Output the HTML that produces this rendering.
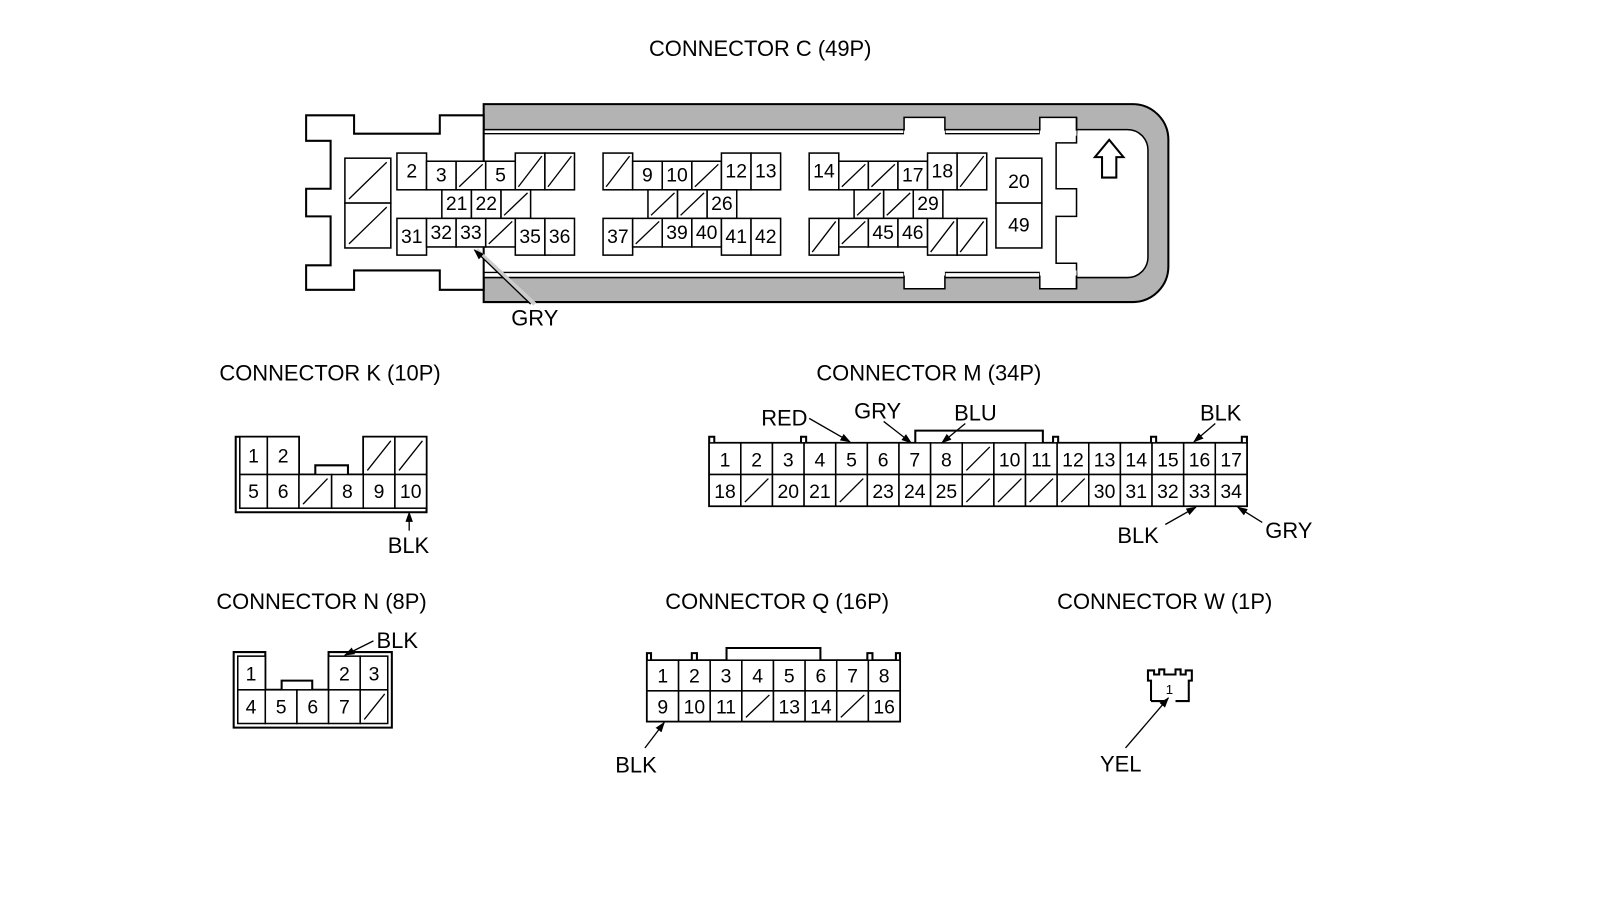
<!DOCTYPE html>
<html><head><meta charset="utf-8"><style>
html,body{margin:0;padding:0;background:#fff;}
svg{display:block;}
text{font-family:"Liberation Sans",sans-serif;fill:#000;}
.t{font-size:21.5px;}
.n{font-size:19px;text-anchor:middle;}
.c rect{fill:#fff;stroke:#000;stroke-width:1.5;}
.c line,.s{stroke:#000;stroke-width:1.3;}
.o{fill:none;stroke:#000;stroke-width:2;}
</style></head><body>
<svg width="1600" height="918" viewBox="0 0 1568 899.6" preserveAspectRatio="none" xmlns="http://www.w3.org/2000/svg">
<defs><marker id="a" viewBox="0 0 10 10" refX="9" refY="5" markerWidth="8" markerHeight="8" orient="auto"><path d="M0,1.5 L10,5 L0,8.5 z" fill="#000"/></marker></defs>

<!-- CONNECTOR C -->
<text class="t" x="636" y="55">CONNECTOR C (49P)</text>
<path d="M474,102 H1110 A35,35 0 0 1 1145,137 V261 A35,35 0 0 1 1110,296 H474 Z" fill="#b3b3b3" stroke="#000" stroke-width="2"/>
<path d="M474,127 H1105 A20,20 0 0 1 1125,147 V252 A20,20 0 0 1 1105,272 H474 Z" fill="#fff" stroke="#000" stroke-width="1.5"/>
<line x1="474" y1="131" x2="1035" y2="131" class="s"/>
<line x1="474" y1="267" x2="1035" y2="267" class="s"/>
<path d="M886,131 V115 H926 V131" fill="#fff" stroke="#000" stroke-width="1.5"/>
<path d="M1019,131 V115 H1055 V131" fill="#fff" stroke="#000" stroke-width="1.5"/>
<path d="M886,267 V283 H926 V267" fill="#fff" stroke="#000" stroke-width="1.5"/>
<path d="M1019,267 V283 H1055 V267" fill="#fff" stroke="#000" stroke-width="1.5"/>
<polyline points="1055,115 1055,140 1035,140 1035,185 1055,185 1055,212 1035,212 1035,258 1055,258 1055,283" fill="none" stroke="#000" stroke-width="1.5"/>
<rect x="886" y="128" width="40" height="5" fill="#fff"/>
<rect x="1019" y="128" width="36" height="5" fill="#fff"/>
<rect x="886" y="265" width="40" height="5" fill="#fff"/>
<rect x="1019" y="265" width="36" height="5" fill="#fff"/>
<polygon points="474,113 431,113 431,131 347,131 347,113 300,113 300,138 324,138 324,185 300,185 300,212 324,212 324,260 300,260 300,284 347,284 347,265 431,265 431,284 474,284" fill="#fff" stroke="#000" stroke-width="2"/>
<line x1="474" y1="113" x2="474" y2="127" class="s"/>
<line x1="474" y1="272" x2="474" y2="284" class="s"/>
<polygon points="1087,137 1101,154 1094,154 1094,174 1080,174 1080,154 1073,154" fill="#fff" stroke="#000" stroke-width="2"/>

<g class="c">
<rect x="338" y="155" width="45" height="44"/><line x1="342" y1="195" x2="379" y2="159"/>
<rect x="338" y="199" width="45" height="44"/><line x1="342" y1="239" x2="379" y2="203"/>
<rect x="389" y="150" width="29" height="36"/><text class="n" x="403.5" y="174">2</text>
<rect x="418" y="158" width="29" height="28"/><text class="n" x="432.5" y="178">3</text>
<rect x="447" y="158" width="29" height="28"/><line x1="450" y1="183" x2="473" y2="161"/>
<rect x="476" y="158" width="29" height="28"/><text class="n" x="490.5" y="178">5</text>
<rect x="505" y="150" width="29" height="36"/><line x1="508" y1="183" x2="531" y2="153"/>
<rect x="534" y="150" width="29" height="36"/><line x1="537" y1="183" x2="560" y2="153"/>
<rect x="433" y="186" width="29" height="28"/><text class="n" x="447.5" y="206">21</text>
<rect x="462" y="186" width="29" height="28"/><text class="n" x="476.5" y="206">22</text>
<rect x="491" y="186" width="29" height="28"/><line x1="494" y1="211" x2="517" y2="189"/>
<rect x="389" y="214" width="29" height="36"/><text class="n" x="403.5" y="238">31</text>
<rect x="418" y="214" width="29" height="28"/><text class="n" x="432.5" y="234">32</text>
<rect x="447" y="214" width="29" height="28"/><text class="n" x="461.5" y="234">33</text>
<rect x="476" y="214" width="29" height="28"/><line x1="479" y1="239" x2="502" y2="217"/>
<rect x="505" y="214" width="29" height="36"/><text class="n" x="519.5" y="238">35</text>
<rect x="534" y="214" width="29" height="36"/><text class="n" x="548.5" y="238">36</text>
<rect x="591" y="150" width="29" height="36"/><line x1="594" y1="183" x2="617" y2="153"/>
<rect x="620" y="158" width="29" height="28"/><text class="n" x="634.5" y="178">9</text>
<rect x="649" y="158" width="29" height="28"/><text class="n" x="663.5" y="178">10</text>
<rect x="678" y="158" width="29" height="28"/><line x1="681" y1="183" x2="704" y2="161"/>
<rect x="707" y="150" width="29" height="36"/><text class="n" x="721.5" y="174">12</text>
<rect x="736" y="150" width="29" height="36"/><text class="n" x="750.5" y="174">13</text>
<rect x="635" y="186" width="29" height="28"/><line x1="638" y1="211" x2="661" y2="189"/>
<rect x="664" y="186" width="29" height="28"/><line x1="667" y1="211" x2="690" y2="189"/>
<rect x="693" y="186" width="29" height="28"/><text class="n" x="707.5" y="206">26</text>
<rect x="591" y="214" width="29" height="36"/><text class="n" x="605.5" y="238">37</text>
<rect x="620" y="214" width="29" height="28"/><line x1="623" y1="239" x2="646" y2="217"/>
<rect x="649" y="214" width="29" height="28"/><text class="n" x="663.5" y="234">39</text>
<rect x="678" y="214" width="29" height="28"/><text class="n" x="692.5" y="234">40</text>
<rect x="707" y="214" width="29" height="36"/><text class="n" x="721.5" y="238">41</text>
<rect x="736" y="214" width="29" height="36"/><text class="n" x="750.5" y="238">42</text>
<rect x="793" y="150" width="29" height="36"/><text class="n" x="807.5" y="174">14</text>
<rect x="822" y="158" width="29" height="28"/><line x1="825" y1="183" x2="848" y2="161"/>
<rect x="851" y="158" width="29" height="28"/><line x1="854" y1="183" x2="877" y2="161"/>
<rect x="880" y="158" width="29" height="28"/><text class="n" x="894.5" y="178">17</text>
<rect x="909" y="150" width="29" height="36"/><text class="n" x="923.5" y="174">18</text>
<rect x="938" y="150" width="29" height="36"/><line x1="941" y1="183" x2="964" y2="153"/>
<rect x="837" y="186" width="29" height="28"/><line x1="840" y1="211" x2="863" y2="189"/>
<rect x="866" y="186" width="29" height="28"/><line x1="869" y1="211" x2="892" y2="189"/>
<rect x="895" y="186" width="29" height="28"/><text class="n" x="909.5" y="206">29</text>
<rect x="793" y="214" width="29" height="36"/><line x1="796" y1="247" x2="819" y2="217"/>
<rect x="822" y="214" width="29" height="28"/><line x1="825" y1="239" x2="848" y2="217"/>
<rect x="851" y="214" width="29" height="28"/><text class="n" x="865.5" y="234">45</text>
<rect x="880" y="214" width="29" height="28"/><text class="n" x="894.5" y="234">46</text>
<rect x="909" y="214" width="29" height="36"/><line x1="912" y1="247" x2="935" y2="217"/>
<rect x="938" y="214" width="29" height="36"/><line x1="941" y1="247" x2="964" y2="217"/>
<rect x="976" y="155" width="45" height="44"/><text class="n" x="998.5" y="184">20</text>
<rect x="976" y="199" width="45" height="44"/><text class="n" x="998.5" y="227">49</text>
</g>
<line x1="524" y1="298" x2="467" y2="245" stroke="#ccc" stroke-width="4"/>
<line x1="520" y1="298" x2="465" y2="245" class="s" marker-end="url(#a)"/>
<text class="t" x="501" y="319">GRY</text>

<!-- CONNECTOR K -->
<text class="t" x="215" y="373">CONNECTOR K (10P)</text>
<g class="c">
<path class="o" d="M231,428 H293 V465 H309 V456 H341 V465 H356 V428 H418 V502 H231 V428 Z" fill="#fff"/>
<rect x="235" y="428" width="27" height="37"/><text class="n" x="248.5" y="453">1</text>
<rect x="262" y="428" width="31" height="37"/><text class="n" x="277.5" y="453">2</text>
<rect x="356" y="428" width="31" height="37"/><line x1="360" y1="461" x2="383" y2="432"/>
<rect x="387" y="428" width="31" height="37"/><line x1="391" y1="461" x2="414" y2="432"/>
<rect x="235" y="465" width="27" height="33"/><text class="n" x="248.5" y="488">5</text>
<rect x="262" y="465" width="31" height="33"/><text class="n" x="277.5" y="488">6</text>
<rect x="293" y="465" width="32" height="33"/><line x1="297" y1="494" x2="321" y2="469"/>
<rect x="325" y="465" width="31" height="33"/><text class="n" x="340.5" y="488">8</text>
<rect x="356" y="465" width="31" height="33"/><text class="n" x="371.5" y="488">9</text>
<rect x="387" y="465" width="31" height="33"/><text class="n" x="402.5" y="488">10</text>
</g>
<line x1="401" y1="520" x2="401" y2="502" class="s" marker-end="url(#a)"/>
<text class="t" x="380" y="542">BLK</text>

<!-- CONNECTOR N -->
<text class="t" x="212" y="597">CONNECTOR N (8P)</text>
<g class="c">
<path class="o" d="M229,639 H260 V676 H276 V667 H306 V676 H322 V639 H384 V713 H229 Z" fill="#fff"/>
<rect x="233" y="643" width="27" height="33"/><text class="n" x="246" y="667">1</text>
<rect x="322" y="643" width="31" height="33"/><text class="n" x="337.5" y="667">2</text>
<rect x="353" y="643" width="27" height="33"/><text class="n" x="366.5" y="667">3</text>
<rect x="233" y="676" width="27" height="33"/><text class="n" x="246" y="699">4</text>
<rect x="260" y="676" width="31" height="33"/><text class="n" x="275.5" y="699">5</text>
<rect x="291" y="676" width="31" height="33"/><text class="n" x="306.5" y="699">6</text>
<rect x="322" y="676" width="31" height="33"/><text class="n" x="337.5" y="699">7</text>
<rect x="353" y="676" width="27" height="33"/><line x1="357" y1="705" x2="377" y2="680"/>
</g>
<line x1="366" y1="628" x2="338" y2="642" class="s" marker-end="url(#a)"/>
<text class="t" x="369" y="635">BLK</text>

<!-- CONNECTOR M -->
<text class="t" x="800" y="373">CONNECTOR M (34P)</text>
<path class="o" d="M695,496 V428 H700 V434 H785 V428 H790 V434 H897 V422 H1022 V434 H1032 V428 H1037 V434 H1128 V428 H1133 V434 H1217 V428 H1222 V496 Z" fill="#fff"/>
<g class="c">
<rect x="695" y="434" width="31" height="31"/><text class="n" x="710.5" y="457">1</text>
<rect x="726" y="434" width="31" height="31"/><text class="n" x="741.5" y="457">2</text>
<rect x="757" y="434" width="31" height="31"/><text class="n" x="772.5" y="457">3</text>
<rect x="788" y="434" width="31" height="31"/><text class="n" x="803.5" y="457">4</text>
<rect x="819" y="434" width="31" height="31"/><text class="n" x="834.5" y="457">5</text>
<rect x="850" y="434" width="31" height="31"/><text class="n" x="865.5" y="457">6</text>
<rect x="881" y="434" width="31" height="31"/><text class="n" x="896.5" y="457">7</text>
<rect x="912" y="434" width="31" height="31"/><text class="n" x="927.5" y="457">8</text>
<rect x="943" y="434" width="31" height="31"/><line x1="947" y1="461" x2="970" y2="438"/>
<rect x="974" y="434" width="31" height="31"/><text class="n" x="989.5" y="457">10</text>
<rect x="1005" y="434" width="31" height="31"/><text class="n" x="1020.5" y="457">11</text>
<rect x="1036" y="434" width="31" height="31"/><text class="n" x="1051.5" y="457">12</text>
<rect x="1067" y="434" width="31" height="31"/><text class="n" x="1082.5" y="457">13</text>
<rect x="1098" y="434" width="31" height="31"/><text class="n" x="1113.5" y="457">14</text>
<rect x="1129" y="434" width="31" height="31"/><text class="n" x="1144.5" y="457">15</text>
<rect x="1160" y="434" width="31" height="31"/><text class="n" x="1175.5" y="457">16</text>
<rect x="1191" y="434" width="31" height="31"/><text class="n" x="1206.5" y="457">17</text>
<rect x="695" y="465" width="31" height="31"/><text class="n" x="710.5" y="488">18</text>
<rect x="726" y="465" width="31" height="31"/><line x1="730" y1="492" x2="753" y2="469"/>
<rect x="757" y="465" width="31" height="31"/><text class="n" x="772.5" y="488">20</text>
<rect x="788" y="465" width="31" height="31"/><text class="n" x="803.5" y="488">21</text>
<rect x="819" y="465" width="31" height="31"/><line x1="823" y1="492" x2="846" y2="469"/>
<rect x="850" y="465" width="31" height="31"/><text class="n" x="865.5" y="488">23</text>
<rect x="881" y="465" width="31" height="31"/><text class="n" x="896.5" y="488">24</text>
<rect x="912" y="465" width="31" height="31"/><text class="n" x="927.5" y="488">25</text>
<rect x="943" y="465" width="31" height="31"/><line x1="947" y1="492" x2="970" y2="469"/>
<rect x="974" y="465" width="31" height="31"/><line x1="978" y1="492" x2="1001" y2="469"/>
<rect x="1005" y="465" width="31" height="31"/><line x1="1009" y1="492" x2="1032" y2="469"/>
<rect x="1036" y="465" width="31" height="31"/><line x1="1040" y1="492" x2="1063" y2="469"/>
<rect x="1067" y="465" width="31" height="31"/><text class="n" x="1082.5" y="488">30</text>
<rect x="1098" y="465" width="31" height="31"/><text class="n" x="1113.5" y="488">31</text>
<rect x="1129" y="465" width="31" height="31"/><text class="n" x="1144.5" y="488">32</text>
<rect x="1160" y="465" width="31" height="31"/><text class="n" x="1175.5" y="488">33</text>
<rect x="1191" y="465" width="31" height="31"/><text class="n" x="1206.5" y="488">34</text>
</g>
<line x1="793" y1="410" x2="833" y2="433" class="s" marker-end="url(#a)"/>
<text class="t" x="746" y="417">RED</text>
<line x1="866" y1="413" x2="893" y2="434" class="s" marker-end="url(#a)"/>
<text class="t" x="837" y="410">GRY</text>
<line x1="946" y1="415" x2="923" y2="434" class="s" marker-end="url(#a)"/>
<text class="t" x="935" y="412">BLU</text>
<line x1="1191" y1="415" x2="1170" y2="433" class="s" marker-end="url(#a)"/>
<text class="t" x="1176" y="412">BLK</text>
<line x1="1142" y1="514" x2="1172" y2="497" class="s" marker-end="url(#a)"/>
<text class="t" x="1095" y="532">BLK</text>
<line x1="1237" y1="512" x2="1213" y2="497" class="s" marker-end="url(#a)"/>
<text class="t" x="1240" y="527">GRY</text>

<!-- CONNECTOR Q -->
<text class="t" x="652" y="597">CONNECTOR Q (16P)</text>
<path class="o" d="M634,707 V640 H638 V647 H678 V640 H683 V647 H712 V635 H804 V647 H850 V640 H855 V647 H878 V640 H882 V707 Z" fill="#fff"/>
<g class="c">
<rect x="634" y="647" width="31" height="30"/><text class="n" x="649.5" y="669">1</text>
<rect x="665" y="647" width="31" height="30"/><text class="n" x="680.5" y="669">2</text>
<rect x="696" y="647" width="31" height="30"/><text class="n" x="711.5" y="669">3</text>
<rect x="727" y="647" width="31" height="30"/><text class="n" x="742.5" y="669">4</text>
<rect x="758" y="647" width="31" height="30"/><text class="n" x="773.5" y="669">5</text>
<rect x="789" y="647" width="31" height="30"/><text class="n" x="804.5" y="669">6</text>
<rect x="820" y="647" width="31" height="30"/><text class="n" x="835.5" y="669">7</text>
<rect x="851" y="647" width="31" height="30"/><text class="n" x="866.5" y="669">8</text>
<rect x="634" y="677" width="31" height="30"/><text class="n" x="649.5" y="699">9</text>
<rect x="665" y="677" width="31" height="30"/><text class="n" x="680.5" y="699">10</text>
<rect x="696" y="677" width="31" height="30"/><text class="n" x="711.5" y="699">11</text>
<rect x="727" y="677" width="31" height="30"/><line x1="731" y1="703" x2="754" y2="681"/>
<rect x="758" y="677" width="31" height="30"/><text class="n" x="773.5" y="699">13</text>
<rect x="789" y="677" width="31" height="30"/><text class="n" x="804.5" y="699">14</text>
<rect x="820" y="677" width="31" height="30"/><line x1="824" y1="703" x2="847" y2="681"/>
<rect x="851" y="677" width="31" height="30"/><text class="n" x="866.5" y="699">16</text>
</g>
<line x1="632" y1="733" x2="651" y2="708" class="s" marker-end="url(#a)"/>
<text class="t" x="603" y="757">BLK</text>

<!-- CONNECTOR W -->
<text class="t" x="1036" y="597">CONNECTOR W (1P)</text>
<path class="o" d="M1128,687 V667 H1125 V657 H1131 V661 H1136 V656 H1141 V661 H1152 V656 H1157 V661 H1162 V657 H1168 V667 H1165 V687 H1152 M1141,687 H1128" fill="none"/>
<text x="1146" y="680" style="font-size:13px;text-anchor:middle">1</text>
<line x1="1103" y1="733" x2="1145" y2="684" class="s" marker-end="url(#a)"/>
<text class="t" x="1078" y="756">YEL</text>
</svg>
</body></html>
